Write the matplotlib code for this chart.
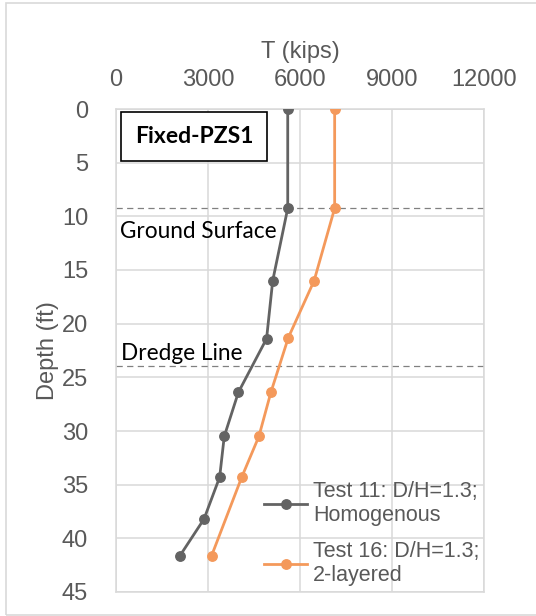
import matplotlib
matplotlib.use('Agg')
import matplotlib.pyplot as plt
from matplotlib.patches import Rectangle

# depth (ft) and axial force T (kips)
depth_11 = [0, 9.25, 16.0, 21.4, 26.4, 30.5, 34.3, 38.2, 41.6]
t_11 = [5600, 5600, 5110, 4910, 3990, 3530, 3380, 2870, 2090]
depth_16 = [0, 9.25, 16.0, 21.3, 26.4, 30.5, 34.3, 41.6]
t_16 = [7130, 7130, 6460, 5620, 5050, 4660, 4100, 3120]

ground_surface = 9.25
dredge_line = 23.9
x_ticks = [0, 3000, 6000, 9000, 12000]
y_ticks = [0, 5, 10, 15, 20, 25, 30, 35, 40, 45]

label_11 = 'Test 11: D/H=1.3;\nHomogenous'
label_16 = 'Test 16: D/H=1.3;\n2-layered'

txt = '#595959'
grid = '#D9D9D9'

fig = plt.figure(figsize=(5.36, 6.16), dpi=100)
fig.patches.append(Rectangle((6/536, 1/616), 1.2, 1 - 4/616, transform=fig.transFigure,
                             fill=False, edgecolor=grid, linewidth=1.2))
ax = fig.add_axes([116/536, 1 - 592/616, 368/536, 483/616])

ax.plot(t_11, depth_11, color='#636363', lw=2.0, marker='o', ms=6.8, label=label_11, zorder=3)
ax.plot(t_16, depth_16, color='#F4995B', lw=2.0, marker='o', ms=6.8, label=label_16, zorder=3)

ax.axhline(ground_surface, color='#808080', lw=0.9, ls=(0, (5, 3.5)), zorder=2)
ax.axhline(dredge_line, color='#808080', lw=0.9, ls=(0, (5, 3.5)), zorder=2)

ax.set_xlim(0, 12000)
ax.set_ylim(45, 0)
ax.set_xticks(x_ticks)
ax.set_yticks(y_ticks)
ax.xaxis.tick_top()
ax.xaxis.set_label_position('top')
ax.tick_params(length=0, labelsize=17, colors=txt)
ax.tick_params(axis='x', pad=13)
ax.tick_params(axis='y', pad=20)
ax.grid(True, color=grid, lw=1.1)
ax.set_axisbelow(True)
for s in ax.spines.values():
    s.set_color(grid)
    s.set_linewidth(1.1)
for lab in ax.get_xticklabels() + ax.get_yticklabels():
    lab.set_fontfamily('Liberation Sans')

ax.set_xlabel('T (kips)', fontsize=17, color=txt, family='Liberation Sans', labelpad=8)
ax.set_ylabel('Depth (ft)', fontsize=17, color=txt, family='Liberation Sans', labelpad=2)

ax.text(0.052, 0.965, 'Fixed-PZS1', transform=ax.transAxes, ha='left', va='top',
        fontsize=16.5, fontweight='bold', family='Lato', color='black',
        bbox=dict(boxstyle='square,pad=0.6', fc='white', ec='black', lw=1.2))
ax.text(130, 11.4, 'Ground Surface', ha='left', va='center',
        fontsize=16.3, family='Lato', color='black')
ax.text(150, 22.75, 'Dredge Line', ha='left', va='center',
        fontsize=16.3, family='Lato', color='black')

leg = ax.legend(loc='lower left', bbox_to_anchor=(0.365, -0.017), frameon=False,
                prop={'family': 'Liberation Sans', 'size': 15.5}, labelcolor=txt,
                handlelength=2.0, handletextpad=0.25, labelspacing=0.68, borderpad=0.15)

fig.savefig('out.png', dpi=100)
